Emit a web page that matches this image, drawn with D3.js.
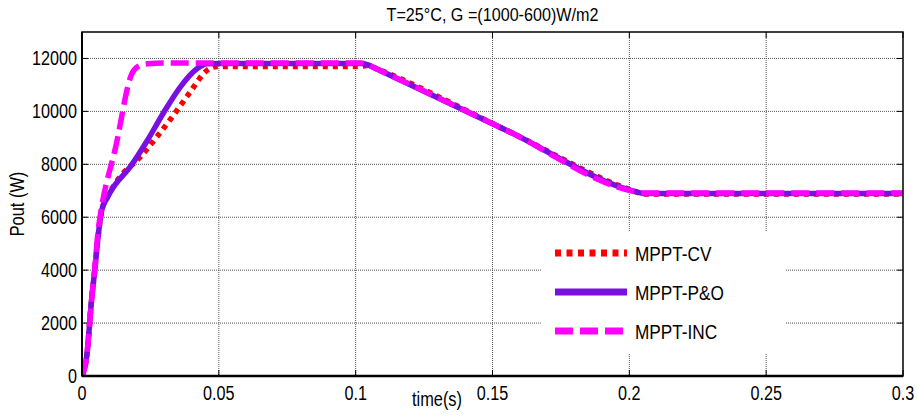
<!DOCTYPE html>
<html>
<head>
<meta charset="utf-8">
<script src="https://cdn.jsdelivr.net/npm/d3@7"></script>
<style>
  body { margin: 0; background: #fff; }
  text { font-family: 'Liberation Sans', Arial, sans-serif; fill: #000; }
</style>
</head>
<body>
<div id="chart"></div>
<script>
// time (s) and output power (W)
const timeCV  = [0, 0.0017, 0.0035, 0.0048, 0.006, 0.0072, 0.009, 0.012, 0.0139, 0.0212, 0.0273, 0.0334, 0.0395, 0.0457, 0.0493, 0.055, 0.102, 0.1045, 0.107, 0.155, 0.2025, 0.205, 0.208, 0.3];
const powerCV = [0, 730, 2870, 4130, 5380, 6260, 6700, 7250, 7520, 8270, 9030, 9850, 10730, 11550, 11700, 11700, 11700, 11740, 11640, 9290, 6960, 6880, 6880, 6880];

const timePO  = [0, 0.0017, 0.0035, 0.0048, 0.006, 0.0072, 0.009, 0.0115, 0.0176, 0.0237, 0.0298, 0.0359, 0.042, 0.0457, 0.05, 0.102, 0.1045, 0.107, 0.155, 0.2025, 0.205, 0.208, 0.3];
const powerPO = [0, 730, 2870, 4130, 5380, 6260, 6700, 7140, 7900, 8870, 9950, 10920, 11610, 11800, 11810, 11810, 11760, 11640, 9290, 6960, 6900, 6900, 6900];

const timeINC  = [0, 0.0017, 0.0035, 0.0048, 0.0059, 0.0066, 0.0124, 0.0182, 0.0205, 0.024, 0.03, 0.102, 0.1045, 0.107, 0.155, 0.2025, 0.205, 0.208, 0.3];
const powerINC = [0, 730, 2870, 4200, 5500, 6010, 8700, 11420, 11700, 11800, 11830, 11830, 11760, 11640, 9290, 6960, 6920, 6920, 6920];

const seriesNames = ["MPPT-CV", "MPPT-P&O", "MPPT-INC"];
const xTicks = [0, 0.05, 0.1, 0.15, 0.2, 0.25, 0.3];
const xTickLabels = ["0", "0.05", "0.1", "0.15", "0.2", "0.25", "0.3"];
const yTicks = [0, 2000, 4000, 6000, 8000, 10000, 12000];

const W = 917, H = 416;
const margin = {top: 32, right: 14, bottom: 40, left: 82};
const iw = W - margin.left - margin.right;
const ih = H - margin.top - margin.bottom;

const svg = d3.select("#chart").append("svg")
    .attr("width", W)
    .attr("height", H);

const g = svg.append("g")
    .attr("transform", `translate(${margin.left},${margin.top})`);

const x = d3.scaleLinear().domain([0, 0.3]).range([0, iw]);
const y = d3.scaleLinear().domain([0, 13000]).range([ih, 0]);

// narrow looking text (the original font is condensed)
function label(parent, tx, ty, str, size, anchor, sx, rot) {
    return parent.append("text")
        .attr("transform", `translate(${tx},${ty})` + (rot ? ` rotate(${rot})` : "") + ` scale(${sx},1)`)
        .attr("text-anchor", anchor)
        .attr("font-size", size + "px")
        .text(str);
}

// grid
g.selectAll("line.vgrid")
    .data(xTicks.slice(1, -1))
    .enter().append("line")
    .attr("class", "vgrid")
    .attr("x1", d => x(d)).attr("x2", d => x(d))
    .attr("y1", 0).attr("y2", ih)
    .attr("stroke", "#555").attr("stroke-width", 1)
    .attr("stroke-dasharray", "1,1");

g.selectAll("line.hgrid")
    .data(yTicks.slice(1))
    .enter().append("line")
    .attr("class", "hgrid")
    .attr("x1", 0).attr("x2", iw)
    .attr("y1", d => y(d)).attr("y2", d => y(d))
    .attr("stroke", "#555").attr("stroke-width", 1)
    .attr("stroke-dasharray", "1,1");

// ticks (inward, on all sides)
const tickLen = 6;
xTicks.forEach(t => {
    g.append("line").attr("x1", x(t)).attr("x2", x(t)).attr("y1", ih).attr("y2", ih - tickLen)
        .attr("stroke", "#000").attr("stroke-width", 1);
    g.append("line").attr("x1", x(t)).attr("x2", x(t)).attr("y1", 0).attr("y2", tickLen)
        .attr("stroke", "#000").attr("stroke-width", 1);
});
yTicks.forEach(v => {
    g.append("line").attr("x1", 0).attr("x2", tickLen).attr("y1", y(v)).attr("y2", y(v))
        .attr("stroke", "#000").attr("stroke-width", 1);
    g.append("line").attr("x1", iw).attr("x2", iw - tickLen).attr("y1", y(v)).attr("y2", y(v))
        .attr("stroke", "#000").attr("stroke-width", 1);
});

// tick labels
xTicks.forEach((t, i) => label(g, x(t), ih + 24, xTickLabels[i], 20, "middle", 0.81));
yTicks.forEach(v => label(g, -5, y(v) + 7, v, 20, "end", 0.81));

// curves
const line = d3.line()
    .x(d => x(d[0]))
    .y(d => y(d[1]))
    .curve(d3.curveMonotoneX);

const zip = (ts, ps) => ts.map((t, i) => [t, ps[i]]);

const series = [
    {name: seriesNames[0], data: zip(timeCV, powerCV), color: "#ff0000", dash: "5,5"},
    {name: seriesNames[1], data: zip(timePO, powerPO), color: "#7a10e0", dash: null},
    {name: seriesNames[2], data: zip(timeINC, powerINC), color: "#ff00ff", dash: "18,7"}
];

const plot = g.append("g");
plot.append("clipPath").attr("id", "clip")
    .append("rect").attr("width", iw).attr("height", ih + 4).attr("y", -2);

series.forEach(s => {
    plot.append("path")
        .datum(s.data)
        .attr("d", line)
        .attr("fill", "none")
        .attr("stroke", s.color)
        .attr("stroke-width", 5.5)
        .attr("stroke-dasharray", s.dash)
        .attr("clip-path", "url(#clip)");
});

// frame
g.append("rect")
    .attr("width", iw).attr("height", ih)
    .attr("fill", "none").attr("stroke", "#000").attr("stroke-width", 1.5);
g.append("line").attr("x1", 0).attr("x2", iw).attr("y1", ih).attr("y2", ih)
    .attr("stroke", "#000").attr("stroke-width", 2.5);
g.append("line").attr("x1", 0).attr("x2", 0).attr("y1", 0).attr("y2", ih)
    .attr("stroke", "#000").attr("stroke-width", 2);

// legend
const legend = g.append("g").attr("transform", `translate(${541 - margin.left},${231 - margin.top})`);
legend.append("rect")
    .attr("width", 244).attr("height", 123)
    .attr("fill", "#fff");

series.forEach((s, i) => {
    const ly = 22 + i * 39;
    legend.append("line")
        .attr("x1", 14).attr("x2", 86)
        .attr("y1", ly).attr("y2", ly)
        .attr("stroke", s.color)
        .attr("stroke-width", 7)
        .attr("stroke-dasharray", i === 0 ? "6,5.5" : (i === 2 ? "18,7" : null));
    label(legend, 94, ly + 8, s.name, 21, "start", 0.82);
});

// titles
label(svg, margin.left + iw / 2, 21, "T=25°C, G =(1000-600)W/m2", 19, "middle", 0.85);
label(svg, 437, 406, "time(s)", 20, "middle", 0.82);
label(svg, 24, 204, "Pout (W)", 20, "middle", 0.82, -90);
</script>
</body>
</html>
